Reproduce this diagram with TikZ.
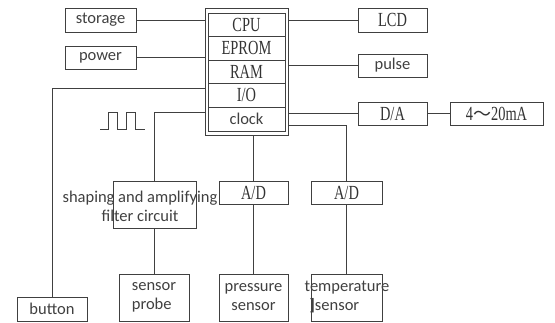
\documentclass[tikz,border=0pt]{standalone}
\usepackage{fontspec}
\newfontfamily\srf[FakeStretch=0.72]{Liberation Serif}
\newfontfamily\snf{Carlito}
\newfontfamily\cjkf{Noto Sans CJK SC}
\usetikzlibrary{calc}
\begin{document}
\begin{tikzpicture}[x=1pt,y=-1pt,
  boxs/.style={draw=black!75,line width=0.9pt,inner sep=0pt,text=black!80},
  serift/.style={font=\srf\fontsize{20}{20}\selectfont},
  sanst/.style={font=\snf\fontsize{16.5}{19}\selectfont,text=black!75},
  wire/.style={draw=black!75,line width=0.9pt}]
\useasboundingbox (0,0) rectangle (555,323);
% left boxes
\node[boxs,sanst,minimum width=71,minimum height=24] (storage) at (100.5,20) {storage};
\node[boxs,sanst,minimum width=71,minimum height=23] (power) at (100.5,57.5) {power};
% CPU stack
\node[boxs,minimum width=83,minimum height=127] (cpuouter) at (246.5,71.5) {};
\node[boxs,serift,minimum width=77,minimum height=23] (cpu) at (246.5,24.5) {CPU};
\node[boxs,serift,minimum width=77,minimum height=24] (eprom) at (246.5,48) {EPROM};
\node[boxs,serift,minimum width=77,minimum height=23] (ram) at (246.5,71.5) {RAM};
\node[boxs,serift,minimum width=77,minimum height=24] (io) at (246.5,95) {I/O};
\node[boxs,sanst,minimum width=77,minimum height=24] (clk) at (246.5,119) {clock};
% right boxes
\node[boxs,serift,minimum width=69,minimum height=24] (lcd) at (392.5,20) {LCD};
\node[boxs,sanst,minimum width=69,minimum height=23] (pulse) at (392.5,65.5) {pulse};
\node[boxs,serift,minimum width=69,minimum height=23] (da) at (392.5,113.5) {D/A};
\node[boxs,serift,minimum width=93,minimum height=23] (ma) at (496.5,113.5) {4{\cjkf\fontsize{18}{18}\selectfont ～}20mA};
% lower boxes
\node[boxs,serift,minimum width=71,minimum height=23] (ad2) at (346.5,192.5) {A/D};
\node[boxs,serift,minimum width=69,minimum height=23] (ad1) at (253.5,192.5) {A/D};
\node[boxs,minimum width=83,minimum height=47] (shape) at (154.5,204.5) {};
\node[sanst,inner sep=0pt,align=center] (shapet) at (140,206.5) {shaping and amplifying\\filter circuit};
\node[boxs,sanst,minimum width=70,minimum height=47,align=left] (probe) at (154,297.5) {sensor\\probe};
\node[boxs,sanst,minimum width=69,minimum height=47,align=center] (press) at (253.5,297.5) {pressure\\sensor};
\node[boxs,minimum width=71,minimum height=47] (temp) at (346.5,297.5) {};
\node[sanst,inner sep=0pt,align=left] (tempt) at (347,297.5) {temperature\\\hspace*{5pt}{\bfseries ]}sensor};
\node[boxs,sanst,minimum width=70,minimum height=24] (button) at (52,309) {button};
% helper coordinates
\coordinate (yio) at (0,88);
\coordinate (yclk) at (0,112);
\coordinate (ytmp) at (0,125);
% wires
\draw[wire] (storage.east) -- (storage.east -| cpuouter.west);
\draw[wire] (power.east) -- (power.east -| cpuouter.west);
\draw[wire] (cpuouter.east |- lcd.west) -- (lcd.west);
\draw[wire] (cpuouter.east |- pulse.west) -- (pulse.west);
\draw[wire] (cpuouter.east |- da.west) -- (da.west);
\draw[wire] (da.east) -- (ma.west);
\draw[wire] (cpuouter.west |- yio) -| (button.north);
\draw[wire] (cpuouter.west |- yclk) -| (shape.north);
\draw[wire] (cpuouter.east |- ytmp) -| (ad2.north);
\draw[wire] (ad1.north |- cpuouter.south) -- (ad1.north);
\draw[wire] (shape.south) -- (shape.south |- probe.north);
\draw[wire] (ad1.south) -- (press.north);
\draw[wire] (ad2.south) -- (temp.north);
% pulse waveform
\draw[wire] (100,129) -- (108,129) -- (108,112) -- (117,112) -- (117,129)
  -- (126,129) -- (126,112) -- (135,112) -- (135,129) -- (145,129);
\end{tikzpicture}
\end{document}
